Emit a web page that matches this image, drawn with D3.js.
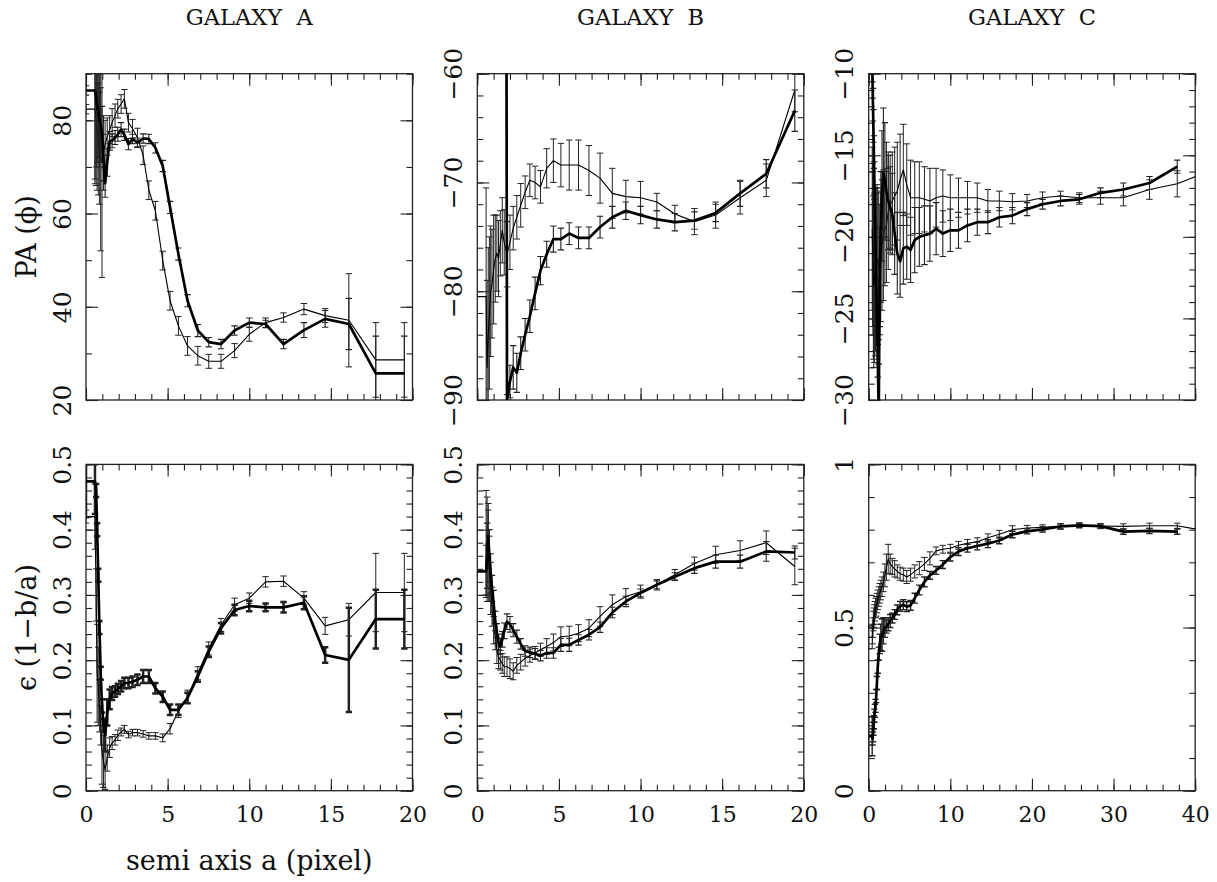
<!DOCTYPE html>
<html>
<head>
<meta charset="utf-8">
<script src="https://cdn.jsdelivr.net/npm/d3@7"></script>
<style>
  body { margin: 0; background: #fff; }
  svg { display: block; color: #222; }
  text { font-family: "DejaVu Serif", "Liberation Serif", serif; fill: #111; }
</style>
</head>
<body>
<svg id="chart" width="1217" height="882"></svg>
<script>
// semi axis a (pixel) sampled for each galaxy
const aGalA = [0, 0.55, 0.62, 0.68, 0.75, 0.82, 0.9, 0.98, 1.07, 1.17, 1.3, 1.45, 1.6, 1.78, 1.95, 2.15, 2.35, 2.6, 2.85, 3.15,
  3.5, 3.85, 4.25, 4.7, 5.15, 5.66, 6.22, 6.85, 7.52, 8.27, 9.1, 10.0, 11.0, 12.1, 13.35, 14.65, 16.1, 17.75, 19.5]
const aGalB = [0, 0.54, 0.6, 0.67, 0.74, 0.82, 0.9, 1.0, 1.1, 1.2, 1.3, 1.41, 1.53, 1.65, 1.82, 2.0, 2.2, 2.42, 2.66, 2.93,
  3.22, 3.54, 3.87, 4.25, 4.66, 5.12, 5.63, 6.2, 6.84, 7.52, 8.27, 9.1, 10.0, 11.0, 12.1, 13.3, 14.6, 16.1, 17.7, 19.45]
const aGalC = [0, 0.43, 0.47, 0.52, 0.57, 0.63, 0.69, 0.76, 0.84, 0.92, 1.01, 1.11, 1.23, 1.35, 1.48, 1.63, 1.8, 1.98, 2.17, 2.39,
  2.63, 2.89, 3.18, 3.5, 3.85, 4.24, 4.66, 5.13, 5.64, 6.2, 6.83, 7.5, 8.26, 9.08, 10.0, 11.0, 12.1, 13.3, 14.6, 16.0,
  17.6, 19.4, 21.3, 23.5, 25.8, 28.4, 31.2, 34.4, 37.8, 41.6]

// galaxy A, position angle
const paA_thick = [86.4, 86.4, 85, 83, 82, 80, 79, 77, 72, 66.5, 71, 75.6, 75.6, 76.3, 77, 78, 76.9, 74.9, 76, 75.2,
  76.1, 76.0, 74.1, 70.2, 61.3, 51.3, 41.3, 34.9, 32.4, 32, 34.9, 36.6, 36.3, 32, 35, 37.4, 36.3, 25.7, 25.7]
const paA_thickErr = [1, 20, 15, 12, 10, 10, 8, 6, 5, 3, 3, 2, 1.5, 1.5, 1.5, 1.5, 1.2, 1.2, 1, 1,
  1, 1, 1.1, 1.2, 1.3, 1.3, 1.3, 1.3, 1, 1, 1, 1, 0.8, 1, 1.6, 1.8, 5.5, 8, 8]
const paA_thin = [82.4, 82.4, 80, 78, 76, 74, 72, 71.3, 73, 75, 76.5, 78, 79.5, 81, 82.5, 83.5, 84.6, 79.5, 78.2, 76.3,
  72.5, 65, 60.6, 49.9, 41.3, 35.9, 31.6, 29.5, 28.3, 28.3, 30.6, 34.1, 36.6, 37.7, 39.5, 38.1, 37.1, 28.6, 28.6]
const paA_thinErr = [1, 15, 14, 13, 12, 12, 20, 25, 8, 5, 4, 3, 3, 2.5, 2, 2, 2, 2, 2, 2,
  2, 2, 2, 2, 2, 2, 2, 2, 1.5, 1.5, 1.5, 1.5, 1, 1, 1.2, 1.5, 10, 8, 8]

// galaxy A, ellipticity
const epsA_thick = [0.474, 0.474, 0.46, 0.40, 0.33, 0.25, 0.18, 0.13, 0.10, 0.085, 0.12, 0.14, 0.149, 0.152, 0.156, 0.16, 0.165, 0.165, 0.167, 0.17,
  0.175, 0.175, 0.157, 0.144, 0.124, 0.124, 0.142, 0.175, 0.213, 0.249, 0.277, 0.283, 0.281, 0.281, 0.288, 0.208, 0.2005, 0.263, 0.263]
const epsA_thickErr = [0.055, 0.05, 0.01, 0.01, 0.01, 0.01, 0.01, 0.01, 0.01, 0.025, 0.02, 0.015, 0.01, 0.008, 0.008, 0.008, 0.008, 0.008, 0.008, 0.008,
  0.01, 0.01, 0.008, 0.008, 0.008, 0.008, 0.008, 0.008, 0.008, 0.008, 0.008, 0.008, 0.006, 0.008, 0.01, 0.012, 0.08, 0.045, 0.045]
const epsA_thin = [0.42, 0.42, 0.3, 0.18, 0.16, 0.13, 0.1, 0.06, 0.045, 0.032, 0.05, 0.066, 0.073, 0.078, 0.085, 0.09, 0.094, 0.086, 0.089, 0.089,
  0.087, 0.084, 0.084, 0.081, 0.095, 0.122, 0.144, 0.18, 0.218, 0.254, 0.285, 0.295, 0.32, 0.321, 0.295, 0.2526, 0.262, 0.3037, 0.3037]
const epsA_thinErr = [0.01, 0.05, 0.04, 0.075, 0.06, 0.04, 0.03, 0.05, 0.04, 0.03, 0.02, 0.015, 0.01, 0.008, 0.008, 0.006, 0.006, 0.005, 0.005, 0.005,
  0.005, 0.005, 0.005, 0.006, 0.008, 0.01, 0.01, 0.01, 0.01, 0.01, 0.01, 0.008, 0.008, 0.008, 0.01, 0.013, 0.025, 0.06, 0.06]

// galaxy B, position angle (85 = wrapped angle above the frame)
const paB_thick = [null, null, null, null, null, null, null, null, null, null, null, null, null, 85, -90.0, -88.3, -87.0, -87.5, -85.7, -84.0,
  -82.3, -80.2, -78.1, -76.6, -75.2, -75.2, -74.7, -75.1, -75.1, -74.1, -73.2, -72.6, -73.0, -73.4, -73.65, -73.5, -72.8, -71.0, -69.2, -63.4]
const paB_thickErr = [0, 0, 0, 0, 0, 0, 0, 0, 0, 0, 0, 0, 0, 0, 0.5, 1.5, 2, 1.8, 1.5, 1.5,
  1.5, 1.5, 1.3, 1.2, 1.2, 1, 1, 1, 1, 1, 1, 0.8, 0.8, 0.8, 0.8, 0.8, 0.8, 1.2, 1.3, 1.9]
const paB_thin = [-80.5, -80.5, -87, -84, -82, -80, -79.3, -78, -77, -76.5, -77, -75.6, -74.4, -75.5, -76.6, -75.5, -74.2, -73.2, -72.1, -70.9,
  -69.8, -70.0, -70.4, -68.7, -68.0, -68.4, -68.4, -68.4, -68.9, -69.6, -71.0, -71.3, -71.4, -71.8, -72.9, -73.6, -73.0, -71.4, -69.8, -61.5]
const paB_thinErr = [0, 10, 8, 8, 7, 6, 5, 5, 4, 3.5, 3.5, 3, 3, 3, 3, 2.5, 2, 2, 2, 1.5,
  1.5, 1.5, 1.5, 1.8, 2, 2, 2.3, 2.3, 2.3, 2.3, 2.3, 1.5, 1.5, 0.8, 0.8, 1.2, 1.2, 1.5, 1.5, 2]

// galaxy B, ellipticity
const epsB_thick = [0.336, 0.336, 0.36, 0.39, 0.36, 0.333, 0.31, 0.287, 0.26, 0.241, 0.228, 0.221, 0.232, 0.245, 0.259, 0.255, 0.246, 0.236, 0.225, 0.214,
  0.212, 0.21, 0.207, 0.211, 0.211, 0.2235, 0.2235, 0.231, 0.239, 0.2506, 0.273, 0.29, 0.303, 0.3155, 0.328, 0.341, 0.351, 0.351, 0.3666, 0.365]
const epsB_thickErr = [0, 0.04, 0.05, 0.05, 0.04, 0.03, 0.02, 0.02, 0.015, 0.015, 0.012, 0.012, 0.012, 0.012, 0.012, 0.012, 0.01, 0.01, 0.008, 0.008,
  0.008, 0.008, 0.008, 0.008, 0.008, 0.01, 0.01, 0.008, 0.008, 0.008, 0.008, 0.008, 0.006, 0.006, 0.006, 0.008, 0.01, 0.01, 0.015, 0.01]
const epsB_thin = [null, 0.38, 0.37, 0.36, 0.34, 0.31, 0.282, 0.25, 0.236, 0.215, 0.205, 0.2, 0.195, 0.19, 0.19, 0.187, 0.183, 0.192, 0.197, 0.203,
  0.207, 0.211, 0.216, 0.221, 0.227, 0.236, 0.237, 0.2414, 0.249, 0.267, 0.285, 0.2976, 0.305, 0.3155, 0.331, 0.348, 0.3615, 0.368, 0.38, 0.3436]
const epsB_thinErr = [0, 0.08, 0.08, 0.07, 0.05, 0.04, 0.03, 0.025, 0.02, 0.02, 0.018, 0.015, 0.015, 0.015, 0.015, 0.015, 0.013, 0.012, 0.012, 0.012,
  0.01, 0.01, 0.01, 0.012, 0.013, 0.015, 0.015, 0.013, 0.013, 0.015, 0.015, 0.012, 0.01, 0.008, 0.008, 0.01, 0.013, 0.015, 0.018, 0.028]

// galaxy C, position angle
const paC_thick = [null, -9.5, -10.5, -11.9, -13.2, -14.8, -16.4, -18.3, -20.4, -22.6, -25, -27.6, -30.8, -22.5, -20, -17.5, -16.1, -16.5, -17.2, -17.8,
  -18.2, -18.6, -19.8, -21.0, -21.5, -20.7, -20.6, -20.8, -20.2, -20.0, -19.9, -19.8, -19.5, -19.8, -19.6, -19.6, -19.3, -19.1, -19.1, -18.8,
  -18.7, -18.3, -18.0, -17.8, -17.7, -17.3, -17.1, -16.7, -15.7, null]
const paC_thickErr = [0, 1, 1, 1, 1, 1, 1, 1, 1, 1, 1, 1, 3, 3, 4, 4, 4, 3.5, 3, 3,
  2.5, 2.5, 2.5, 2.5, 2.2, 2.2, 2.0, 2.0, 2.0, 1.8, 1.8, 1.7, 1.6, 1.4, 1.3, 1.1, 1.0, 0.8, 0.7, 0.6,
  0.5, 0.4, 0.3, 0.3, 0.3, 0.3, 0.4, 0.4, 0.4, 0]
const paC_thin = [null, -19.5, -20.5, -21, -22.5, -23, -22.7, -22.3, -22, -21.5, -21.3, -21.5, -21.8, -22.0, -21.2, -20.5, -19.9, -19.5, -19.3, -18.5,
  -18.0, -17.8, -17.5, -17.2, -16.5, -15.9, -16.8, -17.6, -17.6, -17.6, -17.7, -17.8, -17.6, -17.5, -17.6, -17.6, -17.6, -17.6, -17.8, -17.8,
  -17.85, -17.8, -17.6, -17.5, -17.6, -17.6, -17.6, -17.1, -16.75, -16.0]
const paC_thinErr = [0, 5, 5, 5, 5, 5, 5, 5, 5, 4.5, 4.5, 4.5, 4.5, 4, 4, 4, 4, 3.5, 3.5, 3.5,
  3, 3, 3, 3, 2.8, 2.8, 2.5, 2.3, 2.2, 2.2, 2.0, 2.0, 1.8, 1.6, 1.4, 1.2, 1.0, 0.9, 0.7, 0.6,
  0.5, 0.4, 0.35, 0.3, 0.3, 0.4, 0.5, 0.6, 0.8, 0]

// galaxy C, ellipticity
const epsC_thick = [0.167, 0.167, 0.16, 0.17, 0.19, 0.21, 0.23, 0.245, 0.26, 0.29, 0.33, 0.38, 0.42, 0.45, 0.47, 0.477, 0.49, 0.5, 0.503, 0.51,
  0.52, 0.529, 0.54, 0.554, 0.565, 0.57, 0.564, 0.568, 0.59, 0.615, 0.64, 0.66, 0.675, 0.693, 0.716, 0.733, 0.743, 0.75, 0.757, 0.767,
  0.785, 0.795, 0.801, 0.81, 0.813, 0.811, 0.794, 0.796, 0.794, null]
const epsC_thickErr = [0.06, 0.06, 0.02, 0.02, 0.02, 0.02, 0.02, 0.02, 0.02, 0.02, 0.02, 0.02, 0.02, 0.03, 0.04, 0.05, 0.04, 0.03, 0.02, 0.02,
  0.02, 0.015, 0.015, 0.015, 0.015, 0.015, 0.015, 0.015, 0.015, 0.015, 0.015, 0.012, 0.012, 0.012, 0.012, 0.012, 0.012, 0.012, 0.012, 0.01,
  0.01, 0.008, 0.008, 0.008, 0.006, 0.006, 0.008, 0.008, 0.008, 0]
const epsC_thin = [0.47, 0.47, 0.48, 0.5, 0.52, 0.53, 0.54, 0.55, 0.56, 0.565, 0.575, 0.585, 0.595, 0.605, 0.615, 0.625, 0.64, 0.66, 0.685, 0.71,
  0.695, 0.687, 0.68, 0.672, 0.665, 0.662, 0.655, 0.662, 0.672, 0.682, 0.695, 0.712, 0.735, 0.74, 0.743, 0.752, 0.758, 0.763, 0.775, 0.786,
  0.8, 0.805, 0.807, 0.81, 0.813, 0.811, 0.81, 0.812, 0.812, 0.795]
const epsC_thinErr = [0.035, 0.035, 0.03, 0.03, 0.03, 0.03, 0.03, 0.03, 0.03, 0.03, 0.03, 0.03, 0.03, 0.03, 0.03, 0.03, 0.03, 0.035, 0.04, 0.045,
  0.03, 0.025, 0.025, 0.02, 0.02, 0.02, 0.02, 0.02, 0.02, 0.02, 0.02, 0.02, 0.012, 0.012, 0.012, 0.012, 0.012, 0.012, 0.012, 0.012,
  0.012, 0.008, 0.008, 0.008, 0.008, 0.008, 0.008, 0.008, 0.008, 0]

// labels and ticks
const titles = ["GALAXY  A", "GALAXY  B", "GALAXY  C"]
const paTicks = [[20, 40, 60, 80], [-90, -80, -70, -60], [-30, -25, -20, -15, -10]]
const epsTicks = [[0, 0.1, 0.2, 0.3, 0.4, 0.5], [0, 0.1, 0.2, 0.3, 0.4, 0.5], [0, 0.5, 1]]
const xTicks = [[0, 5, 10, 15, 20], [0, 5, 10, 15, 20], [0, 10, 20, 30, 40]]

// layout
const W = 326.5, H = 326.3
const colX = [86, 477.3, 868.7]
const rowY = [73.7, 464.4]

const panels = [
  {col: 0, row: 0, a: aGalA, yDom: [20, 90], yMajor: paTicks[0], yStep: 10, xDom: [0, 20], xStep: 1,
    thick: paA_thick, thickErr: paA_thickErr, thin: paA_thin, thinErr: paA_thinErr, barW: 1.1},
  {col: 1, row: 0, a: aGalB, yDom: [-90, -60], yMajor: paTicks[1], yStep: 2, xDom: [0, 20], xStep: 1,
    thick: paB_thick, thickErr: paB_thickErr, thin: paB_thin, thinErr: paB_thinErr, barW: 1.1},
  {col: 2, row: 0, a: aGalC, yDom: [-30, -10], yMajor: paTicks[2], yStep: 1, xDom: [0, 40], xStep: 2,
    thick: paC_thick, thickErr: paC_thickErr, thin: paC_thin, thinErr: paC_thinErr, barW: 1.1},
  {col: 0, row: 1, a: aGalA, yDom: [0, 0.5], yMajor: epsTicks[0], yStep: 0.02, xDom: [0, 20], xStep: 1,
    thick: epsA_thick, thickErr: epsA_thickErr, thin: epsA_thin, thinErr: epsA_thinErr, barW: 2.5},
  {col: 1, row: 1, a: aGalB, yDom: [0, 0.5], yMajor: epsTicks[1], yStep: 0.02, xDom: [0, 20], xStep: 1,
    thick: epsB_thick, thickErr: epsB_thickErr, thin: epsB_thin, thinErr: epsB_thinErr, barW: 1.1},
  {col: 2, row: 1, a: aGalC, yDom: [0, 1], yMajor: epsTicks[2], yStep: 0.1, xDom: [0, 40], xStep: 2,
    thick: epsC_thick, thickErr: epsC_thickErr, thin: epsC_thin, thinErr: epsC_thinErr, barW: 1.4}
]

const svg = d3.select("#chart")
const fmt = d => String(+d.toFixed(3)).replace("-", "\u2212")
const MAJOR = 12, MINOR = 6, CAP = 3.2

function steps(dom, step) {
  return d3.range(Math.round((dom[1] - dom[0]) / step) + 1).map(i => dom[0] + i * step)
}

function cleanAxis(g) {
  g.attr("font-size", null).attr("font-family", null)
  g.select(".domain").remove()
  g.selectAll("line").attr("stroke-width", 1.1)
}

panels.forEach((p, k) => {
  const g = svg.append("g").attr("transform", `translate(${colX[p.col]},${rowY[p.row]})`)
  const x = d3.scaleLinear().domain(p.xDom).range([0, W])
  const y = d3.scaleLinear().domain(p.yDom).range([H, 0])
  const xMajor = xTicks[p.col]
  const xMinor = steps(p.xDom, p.xStep)
  const yMinor = steps(p.yDom, p.yStep)

  const clipId = "clip" + k
  g.append("clipPath").attr("id", clipId).append("rect").attr("width", W).attr("height", H)

  // ticks on all four sides, pointing inwards
  g.append("g").attr("transform", `translate(0,${H})`)
    .call(d3.axisBottom(x).tickValues(xMinor).tickSize(-MINOR).tickFormat(""))
    .call(cleanAxis)
  g.append("g").attr("transform", `translate(0,${H})`)
    .call(d3.axisBottom(x).tickValues(xMajor).tickSize(-MAJOR).tickPadding(16)
      .tickFormat(p.row === 1 ? fmt : () => ""))
    .call(cleanAxis)
    .call(a => a.selectAll("text").attr("font-size", 22))
  g.append("g")
    .call(d3.axisTop(x).tickValues(xMinor).tickSize(-MINOR).tickFormat(""))
    .call(cleanAxis)
  g.append("g")
    .call(d3.axisTop(x).tickValues(xMajor).tickSize(-MAJOR).tickFormat(""))
    .call(cleanAxis)
  g.append("g")
    .call(d3.axisLeft(y).tickValues(yMinor).tickSize(-MINOR).tickFormat(""))
    .call(cleanAxis)
  g.append("g")
    .call(d3.axisLeft(y).tickValues(p.yMajor).tickSize(-MAJOR).tickFormat(fmt))
    .call(cleanAxis)
    .call(a => a.selectAll("text")
      .attr("transform", "rotate(-90)")
      .attr("text-anchor", "middle")
      .attr("x", 0).attr("y", -15.3).attr("dy", 0)
      .attr("font-size", 25))
  g.append("g").attr("transform", `translate(${W},0)`)
    .call(d3.axisRight(y).tickValues(yMinor).tickSize(-MINOR).tickFormat(""))
    .call(cleanAxis)
  g.append("g").attr("transform", `translate(${W},0)`)
    .call(d3.axisRight(y).tickValues(p.yMajor).tickSize(-MAJOR).tickFormat(""))
    .call(cleanAxis)

  g.append("rect").attr("width", W).attr("height", H)
    .attr("fill", "none").attr("stroke", "#222").attr("stroke-width", 1.3)

  const plot = g.append("g").attr("clip-path", `url(#${clipId})`)

  const series = [
    {vals: p.thin, errs: p.thinErr, lw: 1.1, bw: 1.0},
    {vals: p.thick, errs: p.thickErr, lw: 2.7, bw: p.barW}
  ]
  series.forEach(s => {
    const pts = p.a.map((av, i) => ({a: av, v: s.vals[i], e: s.errs[i]}))
    const line = d3.line().defined(d => d.v != null).x(d => x(d.a)).y(d => y(d.v))
    plot.append("g").selectAll("path")
      .data(pts.filter(d => d.v != null && d.e > 0))
      .join("path")
      .attr("d", d => {
        const cx = x(d.a), y1 = y(d.v + d.e), y2 = y(d.v - d.e)
        return `M${cx - CAP},${y1}h${2 * CAP}M${cx},${y1}V${y2}M${cx - CAP},${y2}h${2 * CAP}`
      })
      .attr("fill", "none").attr("stroke", "#222").attr("stroke-width", s.bw)
    plot.append("path").datum(pts)
      .attr("d", line)
      .attr("fill", "none").attr("stroke", "#000")
      .attr("stroke-width", s.lw).attr("stroke-linejoin", "round")
  })

  if (p.row === 0) {
    g.append("text").attr("x", W / 2).attr("y", -49)
      .attr("text-anchor", "middle").attr("font-size", 22.5)
      .style("white-space", "pre")
      .text(titles[p.col])
  }
})

// axis titles
svg.append("text")
  .attr("transform", `translate(36,${rowY[0] + H / 2}) rotate(-90)`)
  .attr("text-anchor", "middle").attr("font-size", 27)
  .text("PA (\u03d5)")
svg.append("text")
  .attr("transform", `translate(36,${rowY[1] + H / 2}) rotate(-90)`)
  .attr("text-anchor", "middle").attr("font-size", 27)
  .text("\u03f5 (1\u2212b/a)")
svg.append("text")
  .attr("x", colX[0] + W / 2).attr("y", 870)
  .attr("text-anchor", "middle").attr("font-size", 27)
  .text("semi axis a (pixel)")
</script>
</body>
</html>
